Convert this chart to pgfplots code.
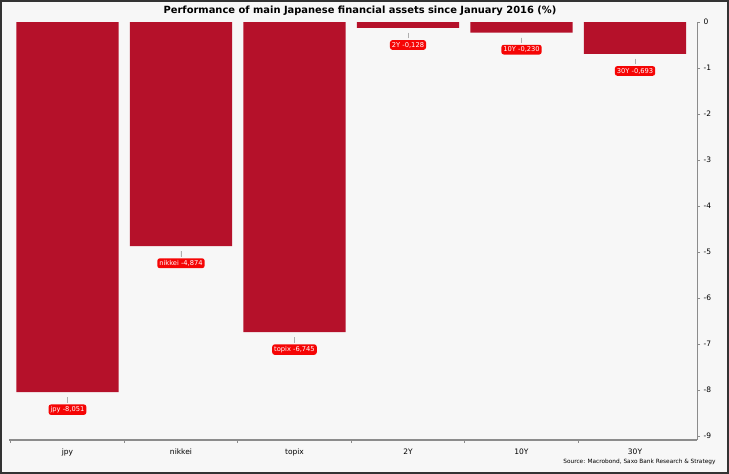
\documentclass[border=0pt]{standalone}
\usepackage{pgfplots}
\pgfplotsset{compat=1.18}
\usepackage{fontspec}
\setmainfont{DejaVu Sans}
\definecolor{barred}{RGB}{181,17,42}
\definecolor{labred}{RGB}{245,5,5}
\definecolor{bg}{RGB}{247,247,247}
\definecolor{axgray}{RGB}{140,140,140}
\begin{document}
\begin{tikzpicture}
\useasboundingbox (0,0) rectangle (729pt,474pt);
\fill[bg] (0,0) rectangle (729pt,474pt);
\begin{axis}[
  scale only axis,
  width=688pt, height=418pt,
  at={(9pt,34pt)}, anchor=south west,
  xmin=-0.515, xmax=5.546,
  ymin=-9.09, ymax=0,
  axis x line*=bottom,
  axis y line*=right,
  x axis line style={axgray, line width=1.1pt},
  y axis line style={axgray, line width=0.7pt},
  xtick={0,1,2,3,4,5},
  xticklabels={jpy,nikkei,topix,2Y,10Y,30Y},
  minor xtick={-0.5,0.5,1.5,2.5,3.5,4.5},
  x tick label style={font=\fontsize{7.5}{9}\selectfont, yshift=-2pt},
  ytick={0,-1,-2,-3,-4,-5,-6,-7,-8,-9},
  yticklabels={0,-1,-2,-3,-4,-5,-6,-7,-8,-9},
  y tick label style={font=\fontsize{7.5}{9}\selectfont},
  tick align=outside,
  major x tick style={draw=none},
  minor tick length=3pt,
  major tick length=3pt,
  tick style={axgray, line width=0.6pt},
  clip=false,
]
\addplot[ybar, bar width=0.9, fill=barred, draw=none,
  point meta=explicit symbolic,
  nodes near coords={\pgfplotspointmeta},
  nodes near coords style={anchor=north, yshift=-12pt, fill=labred, text=white,
    rounded corners=2.5pt, inner xsep=2pt, inner ysep=2pt, font=\fontsize{6.7}{8}\selectfont},
  error bars/.cd, y dir=minus, y fixed=0.12,
  error mark=none, error bar style={axgray!70, line width=0.5pt, yshift=-5pt}]
table[x=x, y=y, meta=lab, col sep=semicolon, row sep=\\] {
x;y;lab\\
0;-8.051;jpy -8,051\\
1;-4.874;nikkei -4,874\\
2;-6.745;topix -6,745\\
3;-0.128;2Y -0,128\\
4;-0.230;10Y -0,230\\
5;-0.693;30Y -0,693\\
};
\end{axis}
\node[font=\bfseries\fontsize{9.9}{12}\selectfont] at (360pt,463pt) {Performance of main Japanese financial assets since January 2016 (\%)};
\node[anchor=east, font=\fontsize{5.8}{7}\selectfont] at (719pt,12pt) {Source: Macrobond, Saxo Bank Research \& Strategy};
\draw[black!80, line width=1.6pt] (0.8pt,0.8pt) rectangle (728.2pt,473.2pt);
\end{tikzpicture}
\end{document}
